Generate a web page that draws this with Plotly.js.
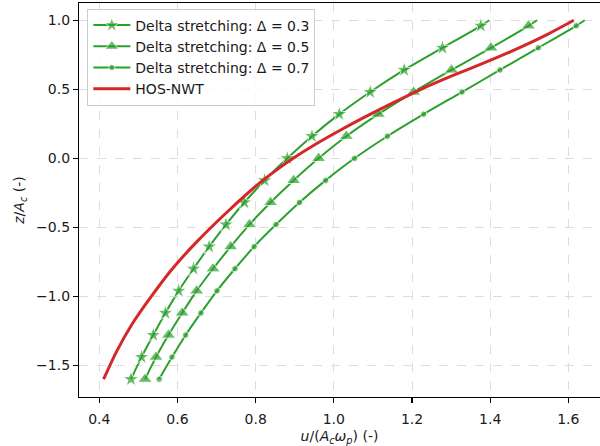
<!DOCTYPE html>
<html>
<head>
<meta charset="utf-8">
<script src="https://cdn.plot.ly/plotly-3.0.1.min.js"></script>
<style>html,body{margin:0;padding:0;background:#fff;}#chart{width:600px;height:446px;}</style>
</head>
<body>
<div id="chart"></div>
<script>
// z/A_c levels where markers are drawn (plus the line end at 1.0)
const zMarks = [-1.6, -1.44, -1.28, -1.12, -0.96, -0.8, -0.64, -0.48, -0.32, -0.16, 0.0, 0.16, 0.32, 0.48, 0.64, 0.8, 0.96, 1.0];
const uDelta03 = [0.481, 0.508, 0.538, 0.569, 0.603, 0.641, 0.681, 0.724, 0.771, 0.823, 0.881, 0.944, 1.014, 1.093, 1.180, 1.278, 1.376, 1.398];
const uDelta05 = [0.517, 0.545, 0.577, 0.612, 0.649, 0.691, 0.736, 0.784, 0.838, 0.897, 0.961, 1.032, 1.114, 1.204, 1.301, 1.402, 1.498, 1.520];
const uDelta07 = [0.553, 0.586, 0.621, 0.660, 0.701, 0.747, 0.796, 0.852, 0.912, 0.979, 1.053, 1.137, 1.230, 1.328, 1.425, 1.523, 1.620, 1.642];
// HOS-NWT reference profile
const zHos = [-1.6, -1.4, -1.2, -1.0, -0.8, -0.6, -0.4, -0.2, -0.1, 0.0, 0.1, 0.2, 0.3, 0.4, 0.5, 0.6, 0.7, 0.8, 0.9, 1.0];
const uHos = [0.411, 0.444, 0.484, 0.533, 0.587, 0.651, 0.723, 0.801, 0.846, 0.896, 0.952, 1.014, 1.080, 1.150, 1.223, 1.305, 1.392, 1.474, 1.548, 1.614];

const seriesNames = ['Delta stretching: \u0394 = 0.3', 'Delta stretching: \u0394 = 0.5', 'Delta stretching: \u0394 = 0.7', 'HOS-NWT'];

const green = '#2ca02c', red = '#d62728';
function sizes(n, s) { const a = new Array(n).fill(s); a[n - 1] = 0; return a; }
function fnt() { return {family: 'DejaVu Sans', size: 14, color: '#1a1a1a'}; }

const traces = [
  {x: uDelta03, y: zMarks, name: seriesNames[0], legendgroup: 'a', mode: 'lines+markers',
   line: {color: green, width: 2, shape: 'spline', smoothing: 0.8}, marker: {symbol: 'star', size: sizes(zMarks.length, 12), color: green}},
  {x: uDelta05, y: zMarks, name: seriesNames[1], legendgroup: 'b', mode: 'lines+markers',
   line: {color: green, width: 2, shape: 'spline', smoothing: 0.8}, marker: {symbol: 'triangle-up', size: sizes(zMarks.length, 12.5), color: green}},
  {x: uDelta07, y: zMarks, name: seriesNames[2], legendgroup: 'c', mode: 'lines+markers',
   line: {color: green, width: 2, shape: 'spline', smoothing: 0.8}, marker: {symbol: 'circle', size: sizes(zMarks.length, 6.5), color: green}},
  {x: uHos, y: zHos, name: seriesNames[3], legendgroup: 'd', mode: 'lines',
   line: {color: red, width: 3, shape: 'spline', smoothing: 0.8}}
];

const layout = {
  width: 600, height: 446,
  margin: {l: 79, r: 0, t: 3, b: 49},
  paper_bgcolor: '#fff', plot_bgcolor: '#fff',
  font: fnt(),
  showlegend: true,
  legend: {x: 0.016, y: 0.986, xanchor: 'left', yanchor: 'top', bgcolor: 'rgba(255,255,255,0.8)',
           bordercolor: '#cccccc', borderwidth: 1, font: fnt(), tracegroupgap: 0, traceorder: 'grouped',
           itemwidth: 37},
  xaxis: {range: [0.348, 1.681], tickvals: [0.4, 0.6, 0.8, 1.0, 1.2, 1.4, 1.6], tickformat: '.1f',
          showline: true, linecolor: '#000', linewidth: 1.1, mirror: true,
          ticks: 'outside', ticklen: 5, tickcolor: '#000', tickwidth: 1.1, ticklabelstandoff: 4,
          tickfont: fnt(),
          showgrid: true, gridcolor: '#dddddd', griddash: 'dash', gridwidth: 1, zeroline: false,
          title: {text: '<i>u</i>/(<i>A</i><sub><i>c</i></sub><i>\u03c9</i><sub><i>p</i></sub>) (-)', font: fnt(), standoff: 6}},
  yaxis: {range: [-1.729, 1.125], tickvals: [-1.5, -1.0, -0.5, 0.0, 0.5, 1.0], tickformat: '.1f',
          showline: true, linecolor: '#000', linewidth: 1.1, mirror: false,
          ticks: 'outside', ticklen: 5, tickcolor: '#000', tickwidth: 1.1,
          tickfont: fnt(),
          showgrid: true, gridcolor: '#dddddd', griddash: 'dash', gridwidth: 1, zeroline: false,
          title: {text: '<i>z</i>/<i>A</i><sub><i>c</i></sub> (-)', font: fnt(), standoff: 8}}
};

Plotly.newPlot('chart', traces, layout, {displayModeBar: false, staticPlot: true});
</script>
</body>
</html>
